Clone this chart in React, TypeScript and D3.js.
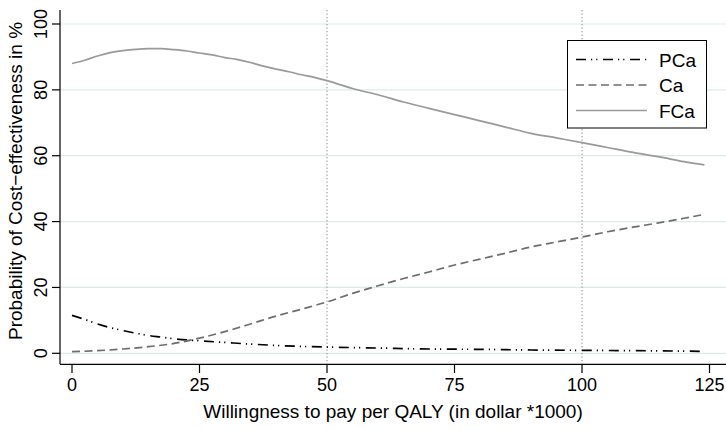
import React from "react";
import * as d3 from "d3";

const xTicks = [0, 25, 50, 75, 100, 125];
const yTicks = [0, 20, 40, 60, 80, 100];
const refLines = [50, 100];

const pcaX = [0, 2.5, 5, 7.5, 10, 12.5, 15, 17.5, 20, 25, 30, 35, 40, 45, 50, 60, 70, 80, 90, 100, 110, 124];
const pcaY = [11.5, 10.3, 8.9, 7.8, 6.9, 6.1, 5.4, 4.9, 4.4, 3.8, 3.3, 2.8, 2.4, 2.1, 1.9, 1.6, 1.3, 1.2, 1.0, 0.9, 0.8, 0.6];

const caX = [0, 5, 10, 15, 20, 25, 30, 35, 40, 45, 50, 55, 60, 65, 70, 75, 80, 85, 90, 95, 100, 105, 110, 115, 120, 124];
const caY = [0.5, 0.8, 1.3, 2.0, 3.0, 4.6, 6.6, 8.9, 11.3, 13.4, 15.6, 18.2, 20.5, 22.7, 24.7, 26.8, 28.6, 30.4, 32.3, 33.8, 35.3, 36.9, 38.3, 39.6, 41.0, 42.2];

const fcaX = [0, 2.5, 5, 7.5, 10, 12.5, 15, 17.5, 20, 22.5, 25, 27.5, 30, 32.5, 35, 37.5, 40, 42.5, 45, 47.5, 50, 55, 60, 65, 70, 75, 80, 85, 90, 95, 100, 105, 110, 115, 120, 124];
const fcaY = [88.0, 89.0, 90.3, 91.3, 91.9, 92.3, 92.5, 92.5, 92.2, 91.8, 91.2, 90.6, 89.8, 89.2, 88.3, 87.2, 86.3, 85.5, 84.6, 83.8, 82.8, 80.4, 78.5, 76.3, 74.4, 72.5, 70.6, 68.7, 66.8, 65.4, 64.0, 62.5, 61.0, 59.7, 58.2, 57.2];

const seriesNames = ["PCa", "Ca", "FCa"];

const FONT = "'Liberation Sans', Arial, Helvetica, sans-serif";

export default function App() {
  const W = 726, H = 430;
  const plotL = 60, plotR = 726, plotT = 10, plotB = 364.3;
  const x = d3.scaleLinear().domain([0, 125]).range([72, 709.5]);
  const y = d3.scaleLinear().domain([0, 100]).range([353.3, 24]);

  const mk = (xs: number[], ys: number[]) =>
    d3.line<number>().x((_, i) => x(xs[i])).y((v) => y(v)).curve(d3.curveMonotoneX)(ys) || "";

  const styles = [
    { stroke: "#000", dash: "10 5 1.2 4 1.2 5.6", width: 1.7 },
    { stroke: "#6e6e6e", dash: "8 4.5", width: 1.7 },
    { stroke: "#9a9a9a", dash: "", width: 1.7 },
  ];
  const paths = [mk(pcaX, pcaY), mk(caX, caY), mk(fcaX, fcaY)];

  const lg = { x: 567.5, y: 40.5, w: 139, h: 87.5 };
  const rowY = [59.5, 85, 110.5];

  return (
    <svg width={W} height={H} style={{ position: "absolute", left: 0, top: 0, background: "#fff" }} fontFamily={FONT}>
      <rect x={0} y={0} width={W} height={H} fill="#fff" />
      {yTicks.map((t) => (
        <line key={"g" + t} x1={plotL} x2={plotR} y1={y(t)} y2={y(t)} stroke="#dcebec" strokeWidth={1.2} />
      ))}
      {refLines.map((r) => (
        <line key={"r" + r} x1={x(r)} x2={x(r)} y1={plotT} y2={plotB} stroke="#888" strokeWidth={1} strokeDasharray="1.3 2.2" />
      ))}
      {paths.map((d, i) => (
        <path key={"p" + i} d={d} fill="none" stroke={styles[i].stroke} strokeWidth={styles[i].width}
          strokeDasharray={styles[i].dash || undefined} />
      ))}
      <line x1={plotL} x2={plotL} y1={plotT} y2={plotB} stroke="#000" strokeWidth={1.2} />
      <line x1={plotL} x2={plotR} y1={plotB} y2={plotB} stroke="#000" strokeWidth={1.2} />
      {yTicks.map((t) => (
        <g key={"yt" + t}>
          <line x1={52} x2={plotL} y1={y(t)} y2={y(t)} stroke="#000" strokeWidth={1.2} />
          <text transform={`translate(47,${y(t)}) rotate(-90)`} textAnchor="middle" fontSize={18}>{t}</text>
        </g>
      ))}
      {xTicks.map((t) => (
        <g key={"xt" + t}>
          <line x1={x(t)} x2={x(t)} y1={plotB} y2={373} stroke="#000" strokeWidth={1.2} />
          <text x={x(t)} y={391} textAnchor="middle" fontSize={18}>{t}</text>
        </g>
      ))}
      <text x={393} y={418} textAnchor="middle" fontSize={19}>Willingness to pay per QALY (in dollar *1000)</text>
      <text transform={`translate(22,${181}) rotate(-90)`} textAnchor="middle" fontSize={19}>Probability of Cost−effectiveness in %</text>
      <rect x={lg.x} y={lg.y} width={lg.w} height={lg.h} fill="#fff" stroke="#000" strokeWidth={1} />
      {seriesNames.map((n, i) => (
        <g key={"l" + n}>
          <line x1={576} x2={647} y1={rowY[i]} y2={rowY[i]} stroke={styles[i].stroke} strokeWidth={styles[i].width}
            strokeDasharray={styles[i].dash || undefined} />
          <text x={659} y={rowY[i] + 7} fontSize={19}>{n}</text>
        </g>
      ))}
    </svg>
  );
}
